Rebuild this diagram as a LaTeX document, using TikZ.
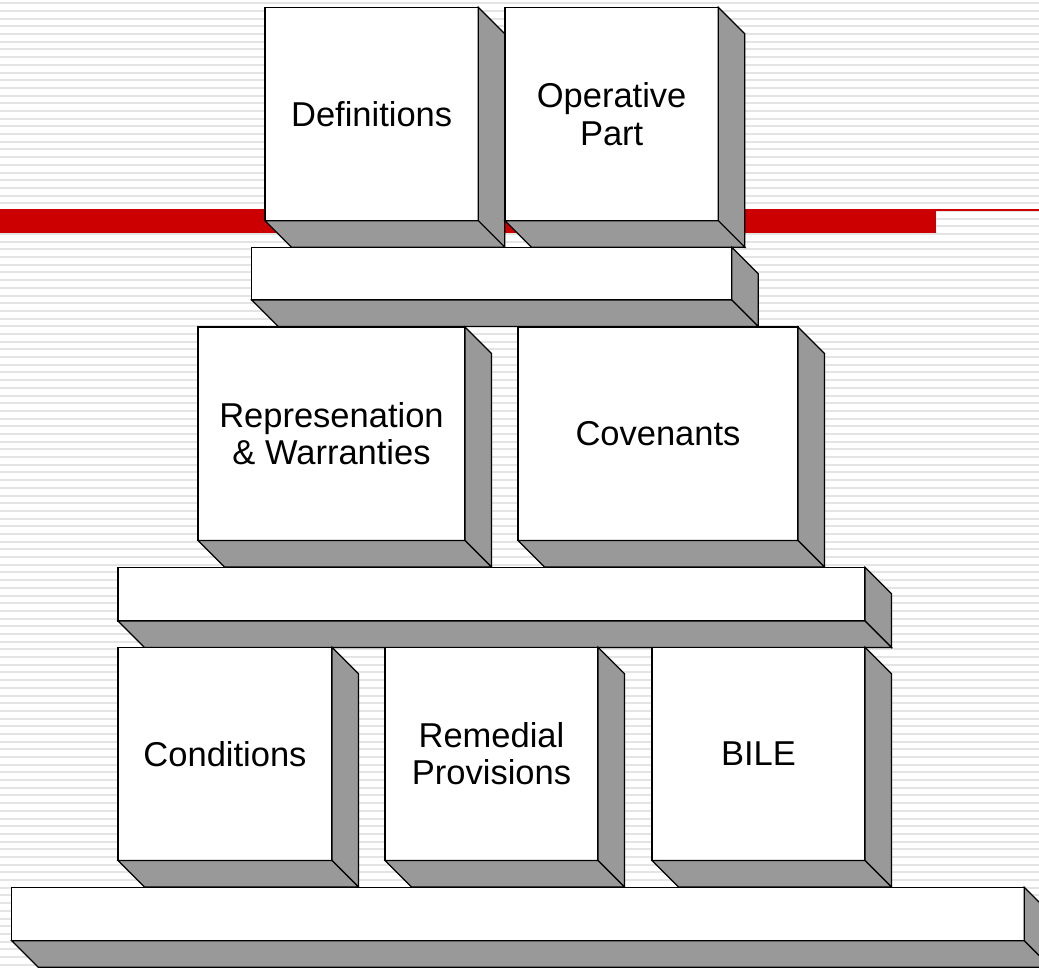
\documentclass[tikz,border=0pt]{standalone}
\usepackage{fontspec}
\setmainfont{Liberation Sans}
\definecolor{stripecol}{RGB}{228,228,228}
\definecolor{barred}{RGB}{204,0,0}
\definecolor{sidegray}{RGB}{153,153,153}
\newcommand\blk[6]{%
  \node[front, minimum width={#4-#2}, minimum height={#5-#3}] (#1) at ({(#2+#4)/2},{(#3+#5)/2}) {#6};
  \draw[side] (#1.north east) -- ++(26.5,26.5) -- ([shift={(26.5,26.5)}]#1.south east) -- (#1.south east) -- cycle;
  \draw[side] (#1.south west) -- (#1.south east) -- ++(26.5,26.5) -- ([shift={(26.5,26.5)}]#1.south west) -- cycle;
}
\begin{document}
\begin{tikzpicture}[x=1pt,y=-1pt,
  front/.style={draw=black, fill=white, line width=1.2pt, inner sep=0pt, outer sep=0pt, align=center, font=\fontsize{34.5}{37.5}\selectfont},
  side/.style={draw=black, fill=sidegray, line width=1.2pt, line join=miter}]
\useasboundingbox (0,0) rectangle (1039,967);
\clip (0,0) rectangle (1039,967);
\fill[white] (0,0) rectangle (1039,967);
\foreach \k in {0,...,125} \draw[stripecol, line width=2pt] (0,{3.3+7.691*\k}) -- (1039,{3.3+7.691*\k});
\fill[barred] (0,209.3) rectangle (936,232.7);
\draw[barred, line width=1.3pt] (936,210) -- (1039,210);
\blk{def}{265}{7.3}{478.3}{220.7}{Definitions}
\blk{op}{505}{7.3}{718.3}{220.7}{Operative\\Part}
\blk{bara}{251.7}{247.3}{731.7}{300}{}
\blk{rep}{198}{327}{465}{540.5}{Represenation\\\& Warranties}
\blk{cov}{518}{327}{798}{540.5}{Covenants}
\blk{barb}{118}{567.3}{865}{621}{}
\blk{cond}{118}{647.3}{332}{860.5}{Conditions}
\blk{rem}{385}{647.3}{598}{860.5}{Remedial\\Provisions}
\blk{bile}{652}{647.3}{865}{860.5}{BILE}
\blk{barc}{11.7}{887.3}{1024.3}{940.7}{}
\end{tikzpicture}
\end{document}
